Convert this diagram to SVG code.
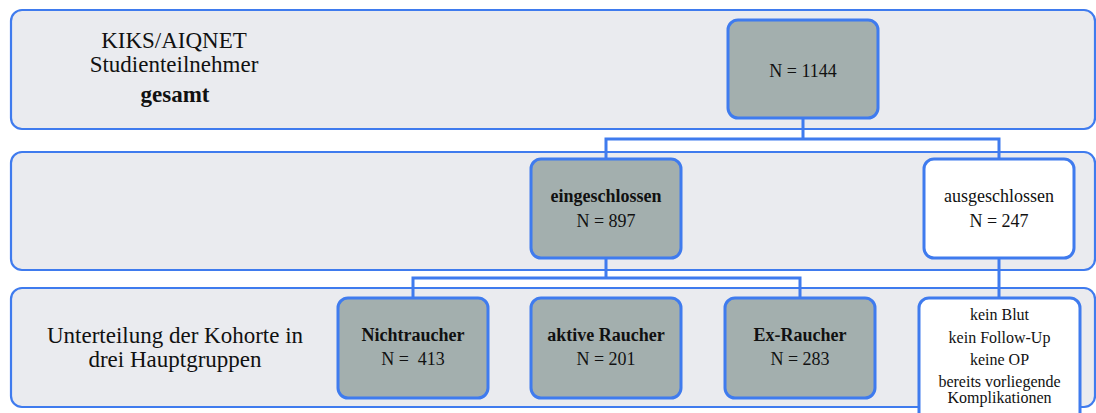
<svg xmlns="http://www.w3.org/2000/svg" width="1096" height="413" viewBox="0 0 1096 413">
<style>
.panel{fill:#EAEBEF;stroke:#3F7BEE;stroke-width:2.2}
.node{fill:#A3AFAE;stroke:#3F7BEE;stroke-width:3}
.white{fill:#FFFFFF;stroke:#3F7BEE;stroke-width:3}
.conn{fill:none;stroke:#3F7BEE;stroke-width:3}
text{font-family:"Liberation Serif","Times New Roman",serif;fill:#111;text-anchor:middle}
.big{font-size:23px}
.mid{font-size:18px}
.sm{font-size:16px}
.b{font-weight:bold}
</style>
<rect width="1096" height="413" fill="#FFFFFF"/>
<g id="panels">
<rect class="panel" x="11" y="10" width="1084" height="119" rx="11"/>
<rect class="panel" x="11" y="152" width="1084" height="118" rx="11"/>
<rect class="panel" x="11" y="288" width="1084" height="119" rx="11"/>
</g>
<g id="connectors">
<path class="conn" d="M803 118 V139 M606 159 V139 H999 V159"/>
<path class="conn" d="M606 258 V278 M413 298 V278 H800 V298"/>
<path class="conn" d="M999 258 V298"/>
</g>
<g id="title">
<text class="big" x="174" y="48">KIKS/AIQNET</text>
<text class="big" x="174" y="72">Studienteilnehmer</text>
<text class="big b" x="175" y="102">gesamt</text>
</g>
<g id="n1144">
<rect class="node" x="728" y="20" width="150" height="98" rx="10"/>
<text class="mid" x="803" y="77">N = 1144</text>
</g>
<g id="eingeschlossen">
<rect class="node" x="531" y="159" width="150" height="99" rx="10"/>
<text class="mid b" x="606" y="202">eingeschlossen</text>
<text class="mid" x="606" y="227">N = 897</text>
</g>
<g id="ausgeschlossen">
<rect class="white" x="924" y="159" width="150" height="99" rx="10"/>
<text class="mid" x="999" y="202">ausgeschlossen</text>
<text class="mid" x="999" y="227">N = 247</text>
</g>
<g id="kohorte">
<text class="big" x="175" y="343">Unterteilung der Kohorte in</text>
<text class="big" x="175" y="367">drei Hauptgruppen</text>
</g>
<g id="nichtraucher">
<rect class="node" x="338" y="298" width="150" height="100" rx="10"/>
<text class="mid b" x="413" y="341">Nichtraucher</text>
<text class="mid" x="413" y="365" xml:space="preserve">N =  413</text>
</g>
<g id="aktive">
<rect class="node" x="531" y="298" width="150" height="100" rx="10"/>
<text class="mid b" x="606" y="341">aktive Raucher</text>
<text class="mid" x="606" y="365">N = 201</text>
</g>
<g id="ex">
<rect class="node" x="725" y="298" width="150" height="100" rx="10"/>
<text class="mid b" x="800" y="341">Ex-Raucher</text>
<text class="mid" x="800" y="365">N = 283</text>
</g>
<g id="gruende">
<rect class="white" x="919" y="298" width="161" height="125" rx="10"/>
<text class="sm" x="999.5" y="320">kein Blut</text>
<text class="sm" x="999.5" y="343">kein Follow-Up</text>
<text class="sm" x="999.5" y="365">keine OP</text>
<text class="sm" x="999.5" y="387">bereits vorliegende</text>
<text class="sm" x="999.5" y="403">Komplikationen</text>
</g>
</svg>
